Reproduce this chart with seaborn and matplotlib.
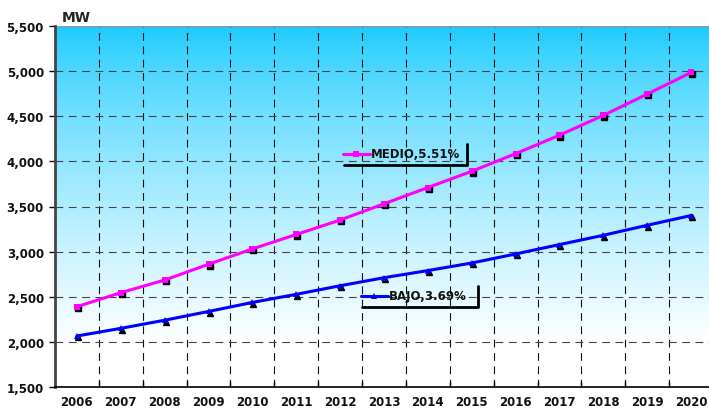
import numpy as np
import pandas as pd
import matplotlib
matplotlib.use("Agg")
import matplotlib.pyplot as plt
from matplotlib.lines import Line2D
from matplotlib.ticker import FuncFormatter, MultipleLocator
from matplotlib.transforms import ScaledTranslation
import seaborn as sns

# data
YEARS = list(range(2006, 2021))
MEDIO = [2390, 2545, 2685, 2860, 3030, 3190, 3350, 3530, 3710, 3890, 4085, 4290, 4510, 4745, 4985]
BAJO = [2065, 2150, 2240, 2337, 2437, 2527, 2622, 2711, 2790, 2874, 2974, 3078, 3181, 3292, 3400]
LABEL_MEDIO = "MEDIO,5.51%"
LABEL_BAJO = "BAJO,3.69%"

MAGENTA = "#FF00FF"
BLUE = "#0000FF"

sns.set_theme(style="white")
plt.rcParams["font.family"] = ["DejaVu Sans"]

W, H = 709, 410
fig = plt.figure(figsize=(W / 100, H / 100), dpi=100)
ax = fig.add_axes([55 / W, 22 / H, 658 / W, 361 / H])

# gradient background: cyan at the top fading to white near the bottom
t = np.linspace(0, 1, 256).reshape(-1, 1, 1)
top = np.array([0x18, 0xCB, 0xFF]) / 255
k = np.clip(t / 0.88, 0, 1) ** 0.75
img = top * (1 - k) + 1.0 * k
ax.imshow(img, extent=[0, 1, 0, 1], transform=ax.transAxes, aspect="auto", zorder=0)

df = pd.DataFrame({"idx": range(len(YEARS)), "MEDIO": MEDIO, "BAJO": BAJO})

# small black marker shadows
shadow = ax.transData + ScaledTranslation(1.0 / 100, -1.3 / 100, fig.dpi_scale_trans)
ax.plot(df["idx"], df["MEDIO"], linestyle="none", marker="s", ms=4.2, color="black", transform=shadow, zorder=3)
ax.plot(df["idx"], df["BAJO"], linestyle="none", marker="^", ms=4.8, color="black", transform=shadow, zorder=3)

sns.lineplot(data=df, x="idx", y="MEDIO", color=MAGENTA, lw=2.2, marker="s", markersize=4.5,
             markeredgewidth=0, ax=ax, zorder=4)
sns.lineplot(data=df, x="idx", y="BAJO", color=BLUE, lw=2.2, marker="^", markersize=5,
             markeredgewidth=0, ax=ax, zorder=4)

ax.set_xlim(-0.5, len(YEARS) - 0.5)
ax.set_ylim(1500, 5500)
ax.yaxis.set_major_locator(MultipleLocator(500))
ax.yaxis.set_major_formatter(FuncFormatter(lambda v, p: f"{int(v):,}"))
ax.set_xticks(range(len(YEARS)))
ax.set_xticklabels([str(y) for y in YEARS])
ax.set_xticks(np.arange(0.5, len(YEARS) - 1, 1), minor=True)
ax.set_xlabel("")
ax.set_ylabel("")

dash = (0, (7, 5))
ax.grid(True, axis="y", which="major", color="#444444", linestyle=dash, lw=0.8, zorder=1)
ax.grid(True, axis="x", which="minor", color="#111111", linestyle=dash, lw=0.8, zorder=1)

ax.tick_params(axis="x", which="major", length=0, pad=6)
ax.tick_params(axis="x", which="minor", length=4, width=1, color="black", direction="in", bottom=True)
ax.tick_params(axis="y", which="major", length=4, width=1, color="black", direction="out", left=True, pad=4)
for lab in ax.get_xticklabels() + ax.get_yticklabels():
    lab.set_fontweight("bold")
    lab.set_fontsize(8.5)
    lab.set_color("#111111")

for s in ["top", "right"]:
    ax.spines[s].set_visible(False)
ax.spines["left"].set_color("#444444")
ax.spines["left"].set_linewidth(2)
ax.spines["bottom"].set_color("black")
ax.spines["bottom"].set_linewidth(1.2)
ax.axhline(5500, color="#999999", lw=1, zorder=2)

fig.text(62 / W, 1 - 18 / H, "MW", fontsize=10, fontweight="bold", va="center", ha="left")


def fx(px):
    return px / W


def fy(py):
    return 1 - py / H


def series_label(x0, y0, color, marker, ms, text, sx, sy):
    fig.add_artist(Line2D([fx(x0), fx(x0 + 27)], [fy(y0), fy(y0)], color=color, lw=2.2,
                          transform=fig.transFigure))
    fig.add_artist(Line2D([fx(x0 + 13)], [fy(y0)], color=color, marker=marker, ms=ms, mew=0,
                          transform=fig.transFigure))
    fig.text(fx(x0 + 28), fy(y0), text, fontsize=8.5, fontweight="bold", va="center", ha="left",
             color="#111111")
    fig.add_artist(Line2D([fx(x0 + 1), fx(sx), fx(sx)], [fy(sy), fy(sy), fy(y0 - 10)],
                          color="black", lw=2, transform=fig.transFigure))


series_label(343, 155, MAGENTA, "s", 4, LABEL_MEDIO, 467, 166)
series_label(361, 297, BLUE, "^", 5, LABEL_BAJO, 478, 308)

fig.savefig("out.png", dpi=100)
